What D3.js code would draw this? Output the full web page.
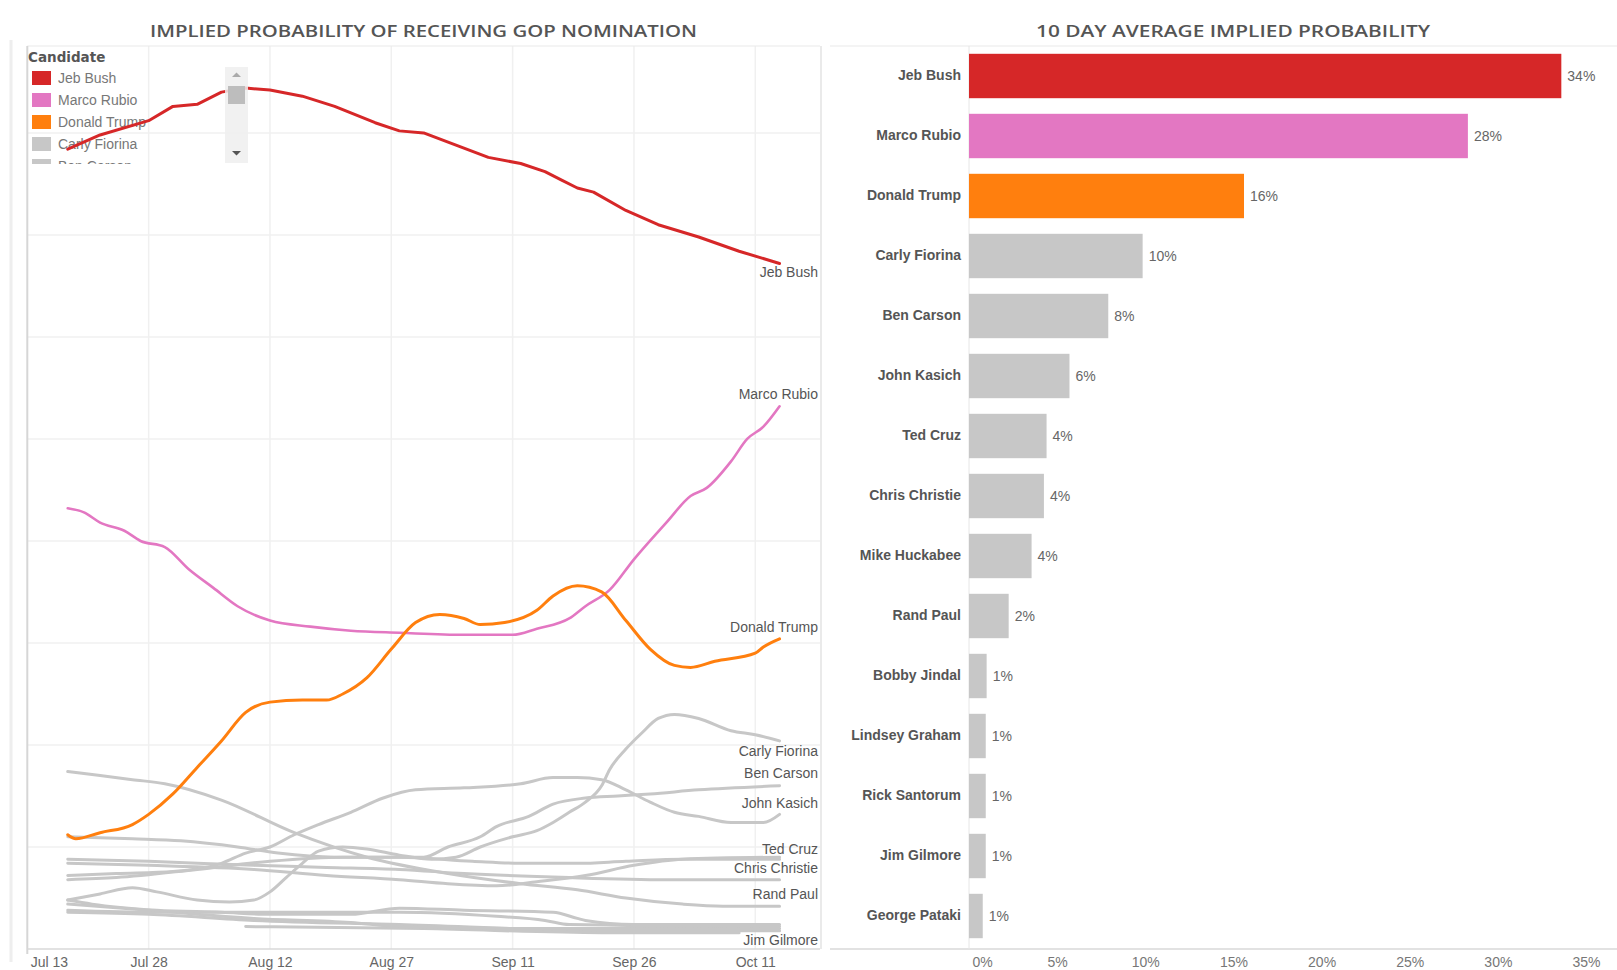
<!DOCTYPE html>
<html lang="en">

<head>
	<title>Implied probability of receiving GOP nomination</title>
	<meta charset="utf-8">
	<script src="https://cdn.jsdelivr.net/npm/d3@7"></script>
	<style>
		body { margin: 0; background: #fff; }
		svg { display: block; font-family: "Liberation Sans", Arial, sans-serif; }
	</style>
</head>

<body>
	<div id="chart"></div>
	<script>
		// Data
		const candidates = ["Jeb Bush", "Marco Rubio", "Donald Trump", "Carly Fiorina", "Ben Carson",
			"John Kasich", "Ted Cruz", "Chris Christie", "Mike Huckabee", "Rand Paul", "Bobby Jindal",
			"Lindsey Graham", "Rick Santorum", "Jim Gilmore", "George Pataki"];

		// 10 day average implied probability (right panel)
		const tenDayAverage = [0.336, 0.283, 0.156, 0.0985, 0.079, 0.057, 0.044, 0.0425, 0.0355,
			0.0225, 0.010, 0.0095, 0.0095, 0.0095, 0.0078];

		const dateTicks = ["2015-07-13", "2015-07-28", "2015-08-12", "2015-08-27", "2015-09-11", "2015-09-26", "2015-10-11"];
		const percentTicks = [0, 0.05, 0.10, 0.15, 0.20, 0.25, 0.30, 0.35];

		// daily implied probability (left panel), [date, probability]
		const bush = [["2015-07-18", 0.392], ["2015-07-22", 0.399], ["2015-07-28", 0.406], ["2015-07-31", 0.413],
			["2015-08-03", 0.414], ["2015-08-06", 0.420], ["2015-08-09", 0.422], ["2015-08-12", 0.421],
			["2015-08-16", 0.418], ["2015-08-20", 0.413], ["2015-08-25", 0.405], ["2015-08-28", 0.401],
			["2015-08-31", 0.400], ["2015-09-04", 0.394], ["2015-09-08", 0.388], ["2015-09-12", 0.385],
			["2015-09-15", 0.381], ["2015-09-17", 0.377], ["2015-09-19", 0.373], ["2015-09-21", 0.371],
			["2015-09-25", 0.362], ["2015-09-29", 0.355], ["2015-10-04", 0.349], ["2015-10-09", 0.342],
			["2015-10-14", 0.336]];
		const rubio = [["2015-07-18", 0.216], ["2015-07-20", 0.214], ["2015-07-22", 0.209], ["2015-07-25", 0.205],
			["2015-07-27", 0.200], ["2015-07-30", 0.197], ["2015-08-02", 0.186], ["2015-08-05", 0.177],
			["2015-08-08", 0.168], ["2015-08-12", 0.161], ["2015-08-17", 0.158], ["2015-08-22", 0.156],
			["2015-08-28", 0.155], ["2015-09-05", 0.154], ["2015-09-11", 0.154], ["2015-09-14", 0.157],
			["2015-09-18", 0.162], ["2015-09-20", 0.168], ["2015-09-23", 0.176], ["2015-09-26", 0.191],
			["2015-09-30", 0.209], ["2015-10-03", 0.222], ["2015-10-05", 0.226], ["2015-10-08", 0.239],
			["2015-10-10", 0.250], ["2015-10-12", 0.256], ["2015-10-14", 0.266]];
		const trump = [["2015-07-18", 0.056], ["2015-07-19", 0.054], ["2015-07-22", 0.057], ["2015-07-26", 0.061],
			["2015-07-28", 0.066], ["2015-07-31", 0.076], ["2015-08-03", 0.089], ["2015-08-06", 0.102],
			["2015-08-09", 0.116], ["2015-08-12", 0.121], ["2015-08-16", 0.122], ["2015-08-19", 0.122],
			["2015-08-21", 0.125], ["2015-08-24", 0.133], ["2015-08-27", 0.147], ["2015-08-30", 0.160],
			["2015-09-02", 0.164], ["2015-09-05", 0.162], ["2015-09-07", 0.159], ["2015-09-10", 0.160],
			["2015-09-14", 0.166], ["2015-09-16", 0.173], ["2015-09-19", 0.178], ["2015-09-22", 0.175],
			["2015-09-25", 0.161], ["2015-09-28", 0.147], ["2015-10-01", 0.139], ["2015-10-03", 0.138],
			["2015-10-06", 0.141], ["2015-10-11", 0.145], ["2015-10-12", 0.148], ["2015-10-14", 0.152]];
		const fiorina = [["2015-07-18", 0.024], ["2015-07-22", 0.027], ["2015-07-26", 0.030], ["2015-07-29", 0.028],
			["2015-08-03", 0.024], ["2015-08-07", 0.023], ["2015-08-10", 0.024], ["2015-08-12", 0.028],
			["2015-08-14", 0.035], ["2015-08-16", 0.042], ["2015-08-18", 0.048], ["2015-08-21", 0.050],
			["2015-08-24", 0.049], ["2015-08-28", 0.046], ["2015-09-01", 0.044], ["2015-09-04", 0.045],
			["2015-09-07", 0.050], ["2015-09-11", 0.055], ["2015-09-14", 0.058], ["2015-09-16", 0.062],
			["2015-09-18", 0.067], ["2015-09-20", 0.072], ["2015-09-22", 0.080], ["2015-09-23", 0.088],
			["2015-09-25", 0.098], ["2015-09-27", 0.106], ["2015-09-29", 0.113], ["2015-10-01", 0.115],
			["2015-10-04", 0.113], ["2015-10-08", 0.107], ["2015-10-11", 0.105], ["2015-10-14", 0.102]];
		const carson = [["2015-07-18", 0.034], ["2015-07-24", 0.035], ["2015-08-03", 0.039], ["2015-08-12", 0.043],
			["2015-08-21", 0.045], ["2015-08-31", 0.045], ["2015-09-03", 0.050], ["2015-09-07", 0.055],
			["2015-09-09", 0.060], ["2015-09-13", 0.065], ["2015-09-16", 0.071], ["2015-09-20", 0.074],
			["2015-09-24", 0.075], ["2015-09-28", 0.076], ["2015-10-04", 0.078], ["2015-10-14", 0.080]];
		const kasich = [["2015-07-18", 0.036], ["2015-07-24", 0.037], ["2015-07-31", 0.038], ["2015-08-06", 0.042],
			["2015-08-09", 0.047], ["2015-08-12", 0.050], ["2015-08-15", 0.056], ["2015-08-18", 0.061],
			["2015-08-22", 0.067], ["2015-08-26", 0.074], ["2015-08-30", 0.078], ["2015-09-05", 0.079],
			["2015-09-12", 0.081], ["2015-09-16", 0.084], ["2015-09-19", 0.084], ["2015-09-22", 0.083],
			["2015-09-25", 0.078], ["2015-09-28", 0.072], ["2015-10-01", 0.067], ["2015-10-04", 0.065],
			["2015-10-08", 0.062], ["2015-10-12", 0.062], ["2015-10-14", 0.066]];
		const cruz = [["2015-07-18", 0.055], ["2015-07-26", 0.054], ["2015-08-01", 0.053], ["2015-08-08", 0.050],
			["2015-08-13", 0.047], ["2015-08-20", 0.045], ["2015-08-28", 0.045], ["2015-09-06", 0.043],
			["2015-09-12", 0.042], ["2015-09-19", 0.042], ["2015-09-25", 0.043], ["2015-10-02", 0.044],
			["2015-10-14", 0.044]];
		const christie = [["2015-07-18", 0.042], ["2015-07-28", 0.041], ["2015-08-10", 0.039], ["2015-08-19", 0.036],
			["2015-08-28", 0.034], ["2015-09-03", 0.032], ["2015-09-09", 0.031], ["2015-09-14", 0.033],
			["2015-09-20", 0.036], ["2015-09-26", 0.041], ["2015-10-02", 0.044], ["2015-10-14", 0.045]];
		const huckabee = [["2015-07-18", 0.044], ["2015-07-28", 0.043], ["2015-08-10", 0.041], ["2015-08-19", 0.040],
			["2015-08-28", 0.039], ["2015-09-05", 0.037], ["2015-09-18", 0.035], ["2015-09-30", 0.034],
			["2015-10-14", 0.034]];
		const paul = [["2015-07-18", 0.087], ["2015-07-26", 0.083], ["2015-07-30", 0.081], ["2015-08-06", 0.073],
			["2015-08-15", 0.057], ["2015-08-24", 0.045], ["2015-09-03", 0.037], ["2015-09-12", 0.032],
			["2015-09-19", 0.029], ["2015-09-25", 0.025], ["2015-10-02", 0.022], ["2015-10-07", 0.021],
			["2015-10-14", 0.021]];
		const jindal = [["2015-07-18", 0.024], ["2015-07-21", 0.022], ["2015-07-29", 0.019], ["2015-08-06", 0.018],
			["2015-08-12", 0.017], ["2015-08-22", 0.017], ["2015-08-28", 0.020], ["2015-09-05", 0.019],
			["2015-09-16", 0.018], ["2015-09-19", 0.015], ["2015-09-20", 0.014], ["2015-09-26", 0.012],
			["2015-10-14", 0.012]];
		const graham = [["2015-07-18", 0.019], ["2015-07-29", 0.018], ["2015-08-07", 0.018], ["2015-08-18", 0.018],
			["2015-08-28", 0.018], ["2015-09-09", 0.016], ["2015-09-15", 0.014], ["2015-09-18", 0.012],
			["2015-10-14", 0.011]];
		const santorum = [["2015-07-18", 0.022], ["2015-07-28", 0.019], ["2015-08-10", 0.015], ["2015-08-22", 0.013],
			["2015-08-28", 0.011], ["2015-09-14", 0.010], ["2015-10-14", 0.010]];
		const gilmore = [["2015-08-09", 0.011], ["2015-08-31", 0.010], ["2015-09-22", 0.008], ["2015-10-09", 0.008]];
		const pataki = [["2015-07-18", 0.018], ["2015-07-28", 0.017], ["2015-08-10", 0.014], ["2015-08-28", 0.012],
			["2015-09-22", 0.009], ["2015-10-14", 0.009]];

		const seriesRows = [bush, rubio, trump, fiorina, carson, kasich, cruz, christie, huckabee,
			paul, jindal, graham, santorum, gilmore, pataki];

		// Styling
		const gray = "#c7c7c7";
		const colorOf = d3.scaleOrdinal()
			.domain(candidates)
			.range(["#d62728", "#e377c2", "#ff7f0e"].concat(d3.range(12).map(() => gray)));

		// end-of-line label nudges (px, relative to the line end)
		const labelNudge = {
			"Jeb Bush": 9, "Marco Rubio": -12, "Donald Trump": -12, "Carly Fiorina": 10,
			"Ben Carson": -13, "John Kasich": -11, "Ted Cruz": -10, "Chris Christie": 11,
			"Rand Paul": -12, "Jim Gilmore": 7
		};

		const parseDate = d3.utcParse("%Y-%m-%d");
		const series = candidates.map((name, i) => ({
			name,
			values: seriesRows[i].map(([d, v]) => ({ date: parseDate(d), value: v }))
		}));

		const svg = d3.select("#chart")
			.append("svg")
			.attr("width", 1617)
			.attr("height", 970);

		// Left panel: lines
		const x = d3.scaleUtc()
			.domain([parseDate("2015-07-13"), parseDate("2015-10-19")])
			.range([27.3, 820]);

		const y = d3.scaleLinear()
			.domain([0, 0.4426])
			.range([949, 46]);

		const left = svg.append("g").attr("class", "left");

		// panel separator
		left.append("line")
			.attr("x1", 11).attr("x2", 11).attr("y1", 40).attr("y2", 962)
			.style("stroke", "#eeeeee").style("stroke-width", 3);

		// gridlines
		left.append("g")
			.selectAll("line")
			.data(percentTicks.concat([0.40]).filter(d => d > 0))
			.join("line")
			.attr("x1", x.range()[0]).attr("x2", x.range()[1])
			.attr("y1", d => y(d)).attr("y2", d => y(d))
			.style("stroke", "#f0f0f0").style("stroke-width", 1.5);

		left.append("g")
			.selectAll("line")
			.data(dateTicks.slice(1).map(parseDate))
			.join("line")
			.attr("x1", d => x(d)).attr("x2", d => x(d))
			.attr("y1", y.range()[1]).attr("y2", y.range()[0])
			.style("stroke", "#f0f0f0").style("stroke-width", 1.5);

		// frame
		left.append("line")
			.attr("x1", x.range()[0]).attr("x2", x.range()[1])
			.attr("y1", y.range()[1]).attr("y2", y.range()[1])
			.style("stroke", "#e9e9e9");
		left.append("line")
			.attr("x1", x.range()[0]).attr("x2", x.range()[0])
			.attr("y1", y.range()[1]).attr("y2", y.range()[0] + 5)
			.style("stroke", "#d6d6d6").style("stroke-width", 2);
		left.append("line")
			.attr("x1", x.range()[0]).attr("x2", x.range()[1])
			.attr("y1", y.range()[0]).attr("y2", y.range()[0])
			.style("stroke", "#d9d9d9").style("stroke-width", 1.5);

		// x axis labels
		const xAxis = left.append("g")
			.attr("transform", `translate(0,${y.range()[0]})`)
			.call(d3.axisBottom(x)
				.tickValues(dateTicks.map(parseDate))
				.tickFormat(d3.utcFormat("%b %d"))
				.tickSize(0)
				.tickPadding(8));
		xAxis.select(".domain").remove();
		xAxis.selectAll("text")
			.style("font-family", "'Liberation Sans', Arial, sans-serif")
			.style("font-size", "14px")
			.style("fill", "#666");
		xAxis.selectAll(".tick text")
			.filter((d, i) => i === 0)
			.attr("text-anchor", "start")
			.attr("x", 3);

		// legend (drawn under the lines, clipped like the scroll box)
		svg.append("clipPath")
			.attr("id", "legend-clip")
			.append("rect")
			.attr("x", 20).attr("y", 46).attr("width", 200).attr("height", 118);

		const legend = left.append("g")
			.attr("clip-path", "url(#legend-clip)");

		legend.append("text")
			.attr("x", 28).attr("y", 62)
			.style("font-family", "'DejaVu Sans', sans-serif")
			.style("font-weight", "bold")
			.style("font-size", "13.5px")
			.style("fill", "#555")
			.text("Candidate");

		const legendItem = legend.selectAll(".legend-item")
			.data(candidates)
			.join("g")
			.attr("class", "legend-item")
			.attr("transform", (d, i) => `translate(32, ${71 + i * 22})`);

		legendItem.append("rect")
			.attr("width", 19).attr("height", 14)
			.style("fill", d => colorOf(d));

		legendItem.append("text")
			.attr("x", 26).attr("y", 12)
			.style("font-size", "14px")
			.style("fill", "#777")
			.text(d => d);

		// lines
		const smoothLine = d3.line()
			.curve(d3.curveMonotoneX)
			.x(d => x(d.date))
			.y(d => y(d.value));
		const rawLine = d3.line()
			.x(d => x(d.date))
			.y(d => y(d.value));

		const drawOrder = series.slice(3).reverse().concat([series[1], series[2], series[0]]);

		left.append("g")
			.selectAll("path")
			.data(drawOrder)
			.join("path")
			.attr("d", d => d.name === "Jeb Bush" ? rawLine(d.values) : smoothLine(d.values))
			.style("fill", "none")
			.style("stroke", d => colorOf(d.name))
			.style("stroke-width", d => d.name === "Marco Rubio" ? 2.6 : 3)
			.style("stroke-linejoin", "round")
			.style("stroke-linecap", "round");

		// end labels
		left.append("g")
			.selectAll("text")
			.data(series.filter(d => labelNudge[d.name] !== undefined))
			.join("text")
			.attr("x", 818)
			.attr("y", d => y(d.values[d.values.length - 1].value) + labelNudge[d.name])
			.attr("dy", "0.35em")
			.attr("text-anchor", "end")
			.style("font-size", "14px")
			.style("fill", "#555")
			.text(d => d.name);

		// legend scroll bar
		const scroll = left.append("g").attr("class", "scroll");
		scroll.append("rect")
			.attr("x", 225).attr("y", 67).attr("width", 23).attr("height", 96)
			.style("fill", "#eeeeee").style("opacity", 0.85);
		scroll.append("rect")
			.attr("x", 228).attr("y", 86).attr("width", 17).attr("height", 18)
			.style("fill", "#bdbdbd");
		scroll.append("path")
			.attr("d", "M232,77 L236.5,72.5 L241,77 Z")
			.style("fill", "#aaa");
		scroll.append("path")
			.attr("d", "M232,151 L241,151 L236.5,155.5 Z")
			.style("fill", "#555");

		// Right panel: bars
		const xb = d3.scaleLinear()
			.domain([0, 0.35])
			.range([969, 1586]);

		const yb = d3.scaleBand()
			.domain(candidates)
			.range([46, 946])
			.paddingInner(0.26)
			.paddingOuter(0.13);

		const right = svg.append("g").attr("class", "right");

		right.append("line")
			.attr("x1", 821).attr("x2", 821).attr("y1", 46).attr("y2", 949)
			.style("stroke", "#e3e3e3").style("stroke-width", 1.5);
		right.append("line")
			.attr("x1", 830).attr("x2", 1617).attr("y1", 46).attr("y2", 46)
			.style("stroke", "#e9e9e9");
		right.append("line")
			.attr("x1", 830).attr("x2", 1617).attr("y1", 949).attr("y2", 949)
			.style("stroke", "#d9d9d9").style("stroke-width", 1.5);
		right.append("line")
			.attr("x1", xb(0)).attr("x2", xb(0)).attr("y1", 46).attr("y2", 949)
			.style("stroke", "#e6e6e6");

		right.selectAll(".bar")
			.data(candidates)
			.join("rect")
			.attr("class", "bar")
			.attr("x", xb(0))
			.attr("y", d => yb(d))
			.attr("width", (d, i) => xb(tenDayAverage[i]) - xb(0))
			.attr("height", yb.bandwidth())
			.style("fill", d => colorOf(d));

		right.selectAll(".value")
			.data(candidates)
			.join("text")
			.attr("class", "value")
			.attr("x", (d, i) => xb(tenDayAverage[i]) + 6)
			.attr("y", d => yb(d) + yb.bandwidth() / 2)
			.attr("dy", "0.35em")
			.style("font-size", "14px")
			.style("fill", "#666")
			.text((d, i) => d3.format(".0%")(tenDayAverage[i]));

		const yAxisBar = right.append("g")
			.attr("transform", `translate(${xb(0)},0)`)
			.call(d3.axisLeft(yb).tickSize(0).tickPadding(8));
		yAxisBar.select(".domain").remove();
		yAxisBar.selectAll("text")
			.style("font-family", "'Liberation Sans', Arial, sans-serif")
			.style("font-size", "14px")
			.style("font-weight", "bold")
			.style("fill", "#555");

		const xAxisBar = right.append("g")
			.attr("transform", "translate(0,949)")
			.call(d3.axisBottom(xb)
				.tickValues(percentTicks)
				.tickFormat(d3.format(".0%"))
				.tickSize(0)
				.tickPadding(8));
		xAxisBar.select(".domain").remove();
		xAxisBar.selectAll("text")
			.style("font-family", "'Liberation Sans', Arial, sans-serif")
			.style("font-size", "14px")
			.style("fill", "#777");
		xAxisBar.selectAll(".tick text")
			.filter(d => d === 0)
			.attr("x", 13);

		// Titles
		svg.append("text")
			.attr("x", 423.5).attr("y", 37)
			.attr("text-anchor", "middle")
			.attr("textLength", 547)
			.attr("lengthAdjust", "spacingAndGlyphs")
			.style("font-family", "'Open Sans', sans-serif")
			.style("font-weight", 600)
			.style("font-size", "16px")
			.style("fill", "#555")
			.text("IMPLIED PROBABILITY OF RECEIVING GOP NOMINATION");

		svg.append("text")
			.attr("x", 1233).attr("y", 37)
			.attr("text-anchor", "middle")
			.attr("textLength", 394)
			.attr("lengthAdjust", "spacingAndGlyphs")
			.style("font-family", "'Open Sans', sans-serif")
			.style("font-weight", 600)
			.style("font-size", "16px")
			.style("fill", "#555")
			.text("10 DAY AVERAGE IMPLIED PROBABILITY");
	</script>
</body>

</html>
